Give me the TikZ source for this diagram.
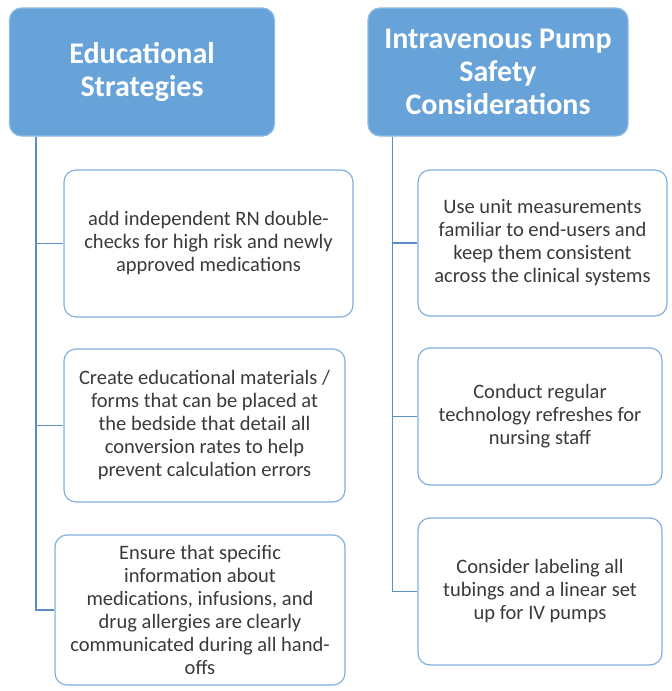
\documentclass[tikz,border=0pt]{standalone}
\usepackage{fontspec}
\setmainfont{Carlito}
\usepackage{xcolor}
\definecolor{headFill}{HTML}{67A3D8}
\definecolor{headLine}{HTML}{8DBBE4}
\definecolor{boxLine}{HTML}{7FB0DE}
\definecolor{linkLine}{HTML}{5A8EC5}
\definecolor{boxText}{HTML}{3A3A3A}
\usetikzlibrary{positioning}
\tikzset{
  header/.style={draw=headLine, line width=1.2pt, fill=headFill, rounded corners=12pt,
    text=white, align=center, font=\fontsize{30}{33}\selectfont\bfseries, inner sep=0pt},
  item/.style={draw=boxLine, line width=1.2pt, fill=white, rounded corners=12pt,
    text=boxText, align=center, font=\fontsize{20.5}{23}\selectfont, inner sep=0pt},
  link/.style={draw=linkLine, line width=1.5pt}
}

\begin{document}
\begin{tikzpicture}[x=1pt, y=-1pt]
\useasboundingbox (0,0) rectangle (672,691);
% headers
\node[header, minimum width=265pt, minimum height=128pt] (edu) at (142,72) {Educational\\Strategies};
\node[header, minimum width=260pt, minimum height=128pt] (pump) at (498,72) {Intravenous Pump\\Safety\\Considerations};
% left column
\node[item, minimum width=289pt, minimum height=147pt] (edu1) at (208.5,243.5) {add independent RN double-\\checks for high risk and newly\\approved medications};
\node[item, minimum width=281pt, minimum height=153pt] (edu2) at (204.5,425.5) {Create educational materials /\\forms that can be placed at\\the bedside that detail all\\conversion rates to help\\prevent calculation errors};
\node[item, minimum width=290pt, minimum height=150pt] (edu3) at (200,610) {Ensure that specific\\information about\\medications, infusions, and\\drug allergies are clearly\\communicated during all hand-\\offs};
% right column
\node[item, minimum width=249pt, minimum height=146pt] (pump1) at (542.5,243) {Use unit measurements\\familiar to end-users and\\keep them consistent\\across the clinical systems};
\node[item, minimum width=244pt, minimum height=137pt] (pump2) at (540,416.5) {Conduct regular\\technology refreshes for\\nursing staff};
\node[item, minimum width=244pt, minimum height=147pt] (pump3) at (540,591.5) {Consider labeling all\\tubings and a linear set\\up for IV pumps};
% connectors
\coordinate (eduroot) at ([xshift=27pt]edu.south west);
\coordinate (pumproot) at ([xshift=25pt]pump.south west);
\draw[link] (eduroot) |- (edu1.west);
\draw[link] (eduroot) |- (edu2.west);
\draw[link] (eduroot) |- (edu3.west);
\draw[link] (pumproot) |- (pump1.west);
\draw[link] (pumproot) |- (pump2.west);
\draw[link] (pumproot) |- (pump3.west);
\end{tikzpicture}
\end{document}
